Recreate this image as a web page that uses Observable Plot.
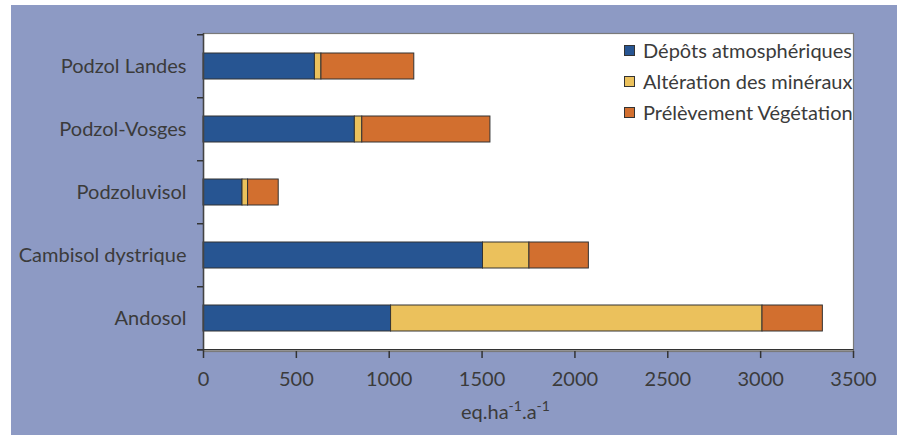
<!DOCTYPE html>
<html>
<head>
<meta charset="utf-8">
<script src="https://cdn.jsdelivr.net/npm/d3@7"></script>
<script src="https://cdn.jsdelivr.net/npm/@observablehq/plot@0.6"></script>
<style>
  html, body { margin: 0; padding: 0; background: #ffffff; }
  #wrap { position: relative; width: 901px; height: 435px; overflow: hidden; font-family: Lato, "Open Sans", sans-serif; color: #3b3b3b; }
  #bg { position: absolute; left: 11px; top: 5px; width: 886px; height: 430px; background: #8d9ac4; }
  #chart { position: absolute; left: 0; top: 0; }
  #legend { position: absolute; left: 624px; top: 35px; font-size: 20px; line-height: 31px; }
  #legend .row { display: flex; align-items: center; white-space: nowrap; }
  #legend .sw { width: 9px; height: 9px; border: 1px solid #333; margin-right: 8px; }
  #xlabel { position: absolute; left: 461px; top: 399px; font-size: 20px; white-space: nowrap; }
  #xlabel sup { font-size: 14px; vertical-align: 0; position: relative; top: -8px; }
</style>
</head>
<body>
<div id="wrap">
  <div id="bg"></div>
  <div id="chart"></div>
  <div id="legend"></div>
  <div id="xlabel"></div>
</div>
<script>
const categories = ["Podzol Landes", "Podzol-Vosges", "Podzoluvisol", "Cambisol dystrique", "Andosol"];
const seriesNames = ["Dépôts atmosphériques", "Altération des minéraux", "Prélèvement Végétation"];
const depots = [600, 815, 210, 1505, 1010];
const alteration = [35, 40, 30, 250, 2000];
const prelevement = [500, 690, 165, 320, 325];
const xTicks = [0, 500, 1000, 1500, 2000, 2500, 3000, 3500];
const seriesColors = ["#275592", "#ebc15c", "#d26f2f"];
const xLabelParts = ["eq.ha", "-1", ".a", "-1"];

const seriesValues = [depots, alteration, prelevement];
const data = categories.flatMap((c, i) =>
  seriesNames.map((s, j) => ({cat: c, series: s, value: seriesValues[j][i]}))
);

const plot = Plot.plot({
  width: 901,
  height: 435,
  marginLeft: 203,
  marginRight: 48,
  marginTop: 33,
  marginBottom: 84,
  style: {background: "transparent", fontFamily: "Lato, 'Open Sans', sans-serif", fontSize: "20px", color: "#3b3b3b", overflow: "visible"},
  x: {domain: [0, 3500], axis: null},
  y: {domain: categories, paddingInner: 0.58, paddingOuter: 0.29, axis: null},
  color: {domain: seriesNames, range: seriesColors},
  marks: [
    Plot.frame({fill: "white", stroke: "#7a7a7a", strokeWidth: 1.2}),
    Plot.barX(data, {y: "cat", x: "value", fill: "series", stroke: "#333", strokeWidth: 1, order: seriesNames}),
    Plot.ruleX([0], {stroke: "#444", strokeWidth: 1.5}),
    Plot.axisX({ticks: xTicks, tickSize: 7, tickPadding: 13, tickFormat: d => String(d), label: null, stroke: "#333", strokeWidth: 1.5}),
    Plot.axisY({tickSize: 0, tickPadding: 17, label: null})
  ]
});
document.getElementById("chart").appendChild(plot);

// boundary ticks on the category axis and bottom axis line, positioned with Plot's scales
const ys = plot.scale("y");
const xs = plot.scale("x");
const svg = d3.select(plot);
const step = ys.step;
const half = ys.paddingInner * step / 2;
const bounds = categories.map(c => ys.apply(c) - half);
bounds.push(bounds[bounds.length - 1] + step);
const x0 = xs.apply(0), x1 = xs.apply(3500);
const g = svg.append("g").attr("stroke", "#333").attr("stroke-width", 1.5);
g.selectAll("line.b").data(bounds).join("line")
  .attr("x1", x0 - 6).attr("x2", x0).attr("y1", d => d).attr("y2", d => d);
g.append("line").attr("x1", x0 - 6).attr("x2", x1 + 0.5)
  .attr("y1", bounds[bounds.length - 1]).attr("y2", bounds[bounds.length - 1]);

// legend
const legend = d3.select("#legend");
seriesNames.forEach((s, j) => {
  const row = legend.append("div").attr("class", "row");
  row.append("div").attr("class", "sw").style("background", seriesColors[j]);
  row.append("span").text(s);
});

// x-axis label with superscripts
const xl = d3.select("#xlabel");
xLabelParts.forEach((p, k) => {
  if (k % 2 === 0) xl.append("span").text(p); else xl.append("sup").text(p);
});
</script>
</body>
</html>
